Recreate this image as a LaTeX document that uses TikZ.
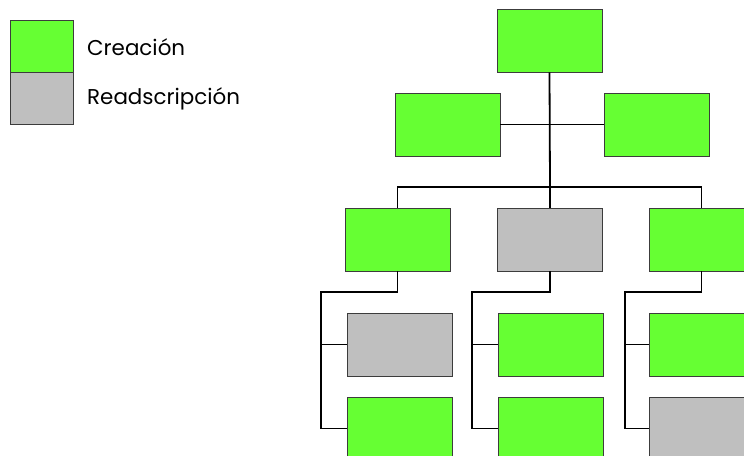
\documentclass[tikz,border=0pt]{standalone}
\usepackage{fontspec}
\setmainfont{Poppins}
\usepackage{xcolor}
\usetikzlibrary{positioning}
\definecolor{creacion}{RGB}{102, 255, 51}
\definecolor{readscripcion}{RGB}{191, 191, 191}
\definecolor{borde}{RGB}{60, 60, 60}

\begin{document}
\begin{tikzpicture}[
    x=1bp, y=-1bp,
    unit/.style={rectangle, draw=borde, line width=0.9bp, inner sep=0pt,
                 minimum width=105bp, minimum height=63bp},
    nueva/.style={unit, fill=creacion},
    movida/.style={unit, fill=readscripcion},
    swatch/.style={rectangle, draw=borde, line width=0.9bp, inner sep=0pt,
                   minimum width=63bp, minimum height=52bp},
    legtext/.style={anchor=west, inner sep=0pt, font=\fontsize{21.5}{24}\selectfont},
    link/.style={line width=1.8bp, black}
]
\clip (0,0) rectangle (744,456);
\useasboundingbox (0,0) rectangle (744,456);

% Legend
\node[swatch, fill=creacion] (leg1) at (41.5,46) {};
\node[swatch, fill=readscripcion, below=0pt of leg1] (leg2) {};
\node[legtext] (legt1) at (87,47) {Creación};
\node[legtext] (legt2) at (87,99) {Readscripción};

% Top levels
\node[nueva] (top) at (549.5,40.5) {};
\node[nueva] (left2) at (447.5,124.5) {};
\node[nueva] (right2) at (656.5,124.5) {};

% Third level
\node[nueva] (col1) at (397.5,239.5) {};
\node[movida] (col2) at (550,239.5) {};
\node[nueva] (col3) at (701.5,239.5) {};

% Lower levels
\node[movida] (col1a) at (399.5,344.5) {};
\node[nueva] (col1b) at (399.5,428.5) {};
\node[nueva] (col2a) at (551,344.5) {};
\node[nueva] (col2b) at (551,428.5) {};
\node[nueva] (col3a) at (702,344.5) {};
\node[movida] (col3b) at (702,428.5) {};

% Connectors
\coordinate (bus) at (550,187);
\coordinate (knee1) at (321,292);
\coordinate (knee2) at (472,292);
\coordinate (knee3) at (625,292);

\draw[link] (top.south) -- (bus);
\draw[link] (left2.east) -- (right2.west);
\draw[link] (col1.north) |- (bus) -| (col3.north);
\draw[link] (bus) -- (col2.north);

\draw[link] (col1.south) |- (knee1) |- (col1b.west);
\draw[link] (knee1 |- col1a.west) -- (col1a.west);
\draw[link] (col2.south) |- (knee2) |- (col2b.west);
\draw[link] (knee2 |- col2a.west) -- (col2a.west);
\draw[link] (col3.south) |- (knee3) |- (col3b.west);
\draw[link] (knee3 |- col3a.west) -- (col3a.west);

\end{tikzpicture}
\end{document}
